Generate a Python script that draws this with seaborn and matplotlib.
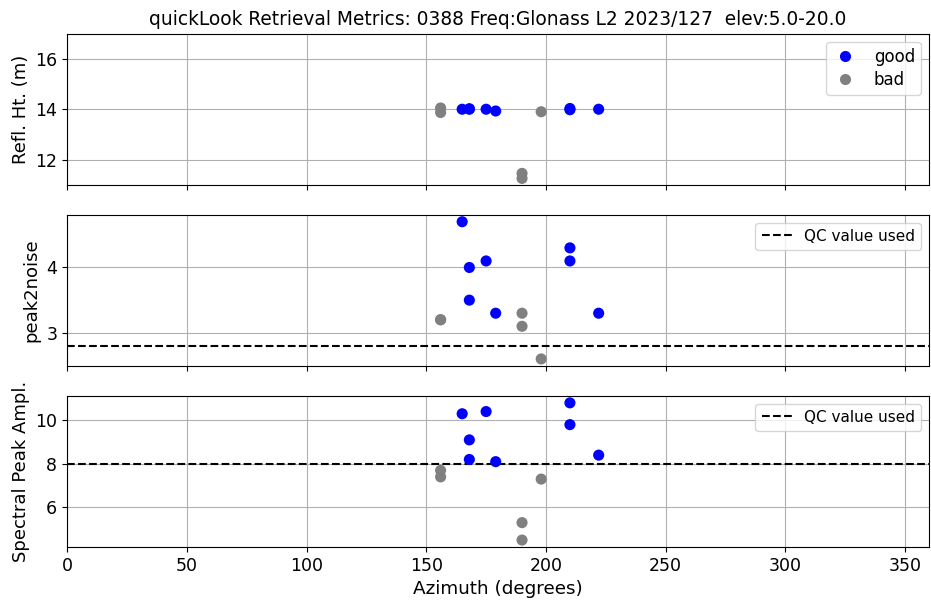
import matplotlib
matplotlib.use("Agg")
import matplotlib.pyplot as plt
import seaborn as sns
import pandas as pd

# Retrieval results per track
azimuth = [156, 156, 165, 168, 168, 175, 179, 190, 190, 198, 210, 210, 222]
refl_ht = [14.05, 13.87, 14.0, 14.02, 14.0, 14.0, 13.93, 11.45, 11.25, 13.9, 14.03, 13.98, 14.0]
peak2noise = [3.2, 3.2, 4.7, 4.0, 3.5, 4.1, 3.3, 3.3, 3.1, 2.6, 4.3, 4.1, 3.3]
amplitude = [7.7, 7.4, 10.3, 9.1, 8.2, 10.4, 8.1, 5.3, 4.5, 7.3, 10.8, 9.8, 8.4]
quality = ["bad", "bad", "good", "good", "good", "good", "good",
           "bad", "bad", "bad", "good", "good", "good"]

qc_peak2noise = 2.8
qc_amplitude = 8.0

df = pd.DataFrame({"azimuth": azimuth, "RH": refl_ht, "p2n": peak2noise,
                   "amp": amplitude, "quality": quality})

palette = {"good": "blue", "bad": "gray"}
hue_order = ["good", "bad"]

fig, axes = plt.subplots(3, 1, figsize=(9.31, 6.03), dpi=100, sharex=True)
fig.subplots_adjust(left=0.072, right=0.998, top=0.944, bottom=0.093, hspace=0.2)

panels = [("RH", "Refl. Ht. (m)", None),
          ("p2n", "peak2noise", qc_peak2noise),
          ("amp", "Spectral Peak Ampl.", qc_amplitude)]

for ax, (col, label, qc) in zip(axes, panels):
    sns.scatterplot(data=df, x="azimuth", y=col, hue="quality", hue_order=hue_order,
                    palette=palette, s=64, linewidth=0, ax=ax, legend=(qc is None),
                    zorder=3)
    if qc is not None:
        ax.axhline(qc, color="black", linestyle="--", linewidth=1.5, label="QC value used")
        ax.legend(loc="upper right", fontsize=11)
    else:
        handles, labels = ax.get_legend_handles_labels()
        ax.legend(handles, labels, loc="upper right", fontsize=12,
                  handlelength=1.6, handletextpad=0.9, labelspacing=0.3,
                  borderpad=0.35)
    ax.set_ylabel(label, fontsize=13)
    ax.set_xlabel("")
    ax.grid(True, color="#b0b0b0", linewidth=0.8)
    ax.set_axisbelow(True)
    ax.tick_params(labelsize=12.5)

axes[0].set_ylim(11, 17)
axes[0].set_yticks([12, 14, 16])
axes[2].set_xlim(0, 360)
axes[2].set_xlabel("Azimuth (degrees)", fontsize=13.2)
axes[0].set_title("quickLook Retrieval Metrics: 0388 Freq:Glonass L2 2023/127  elev:5.0-20.0",
                  fontsize=13.4)

fig.savefig("out.png", dpi=100)
